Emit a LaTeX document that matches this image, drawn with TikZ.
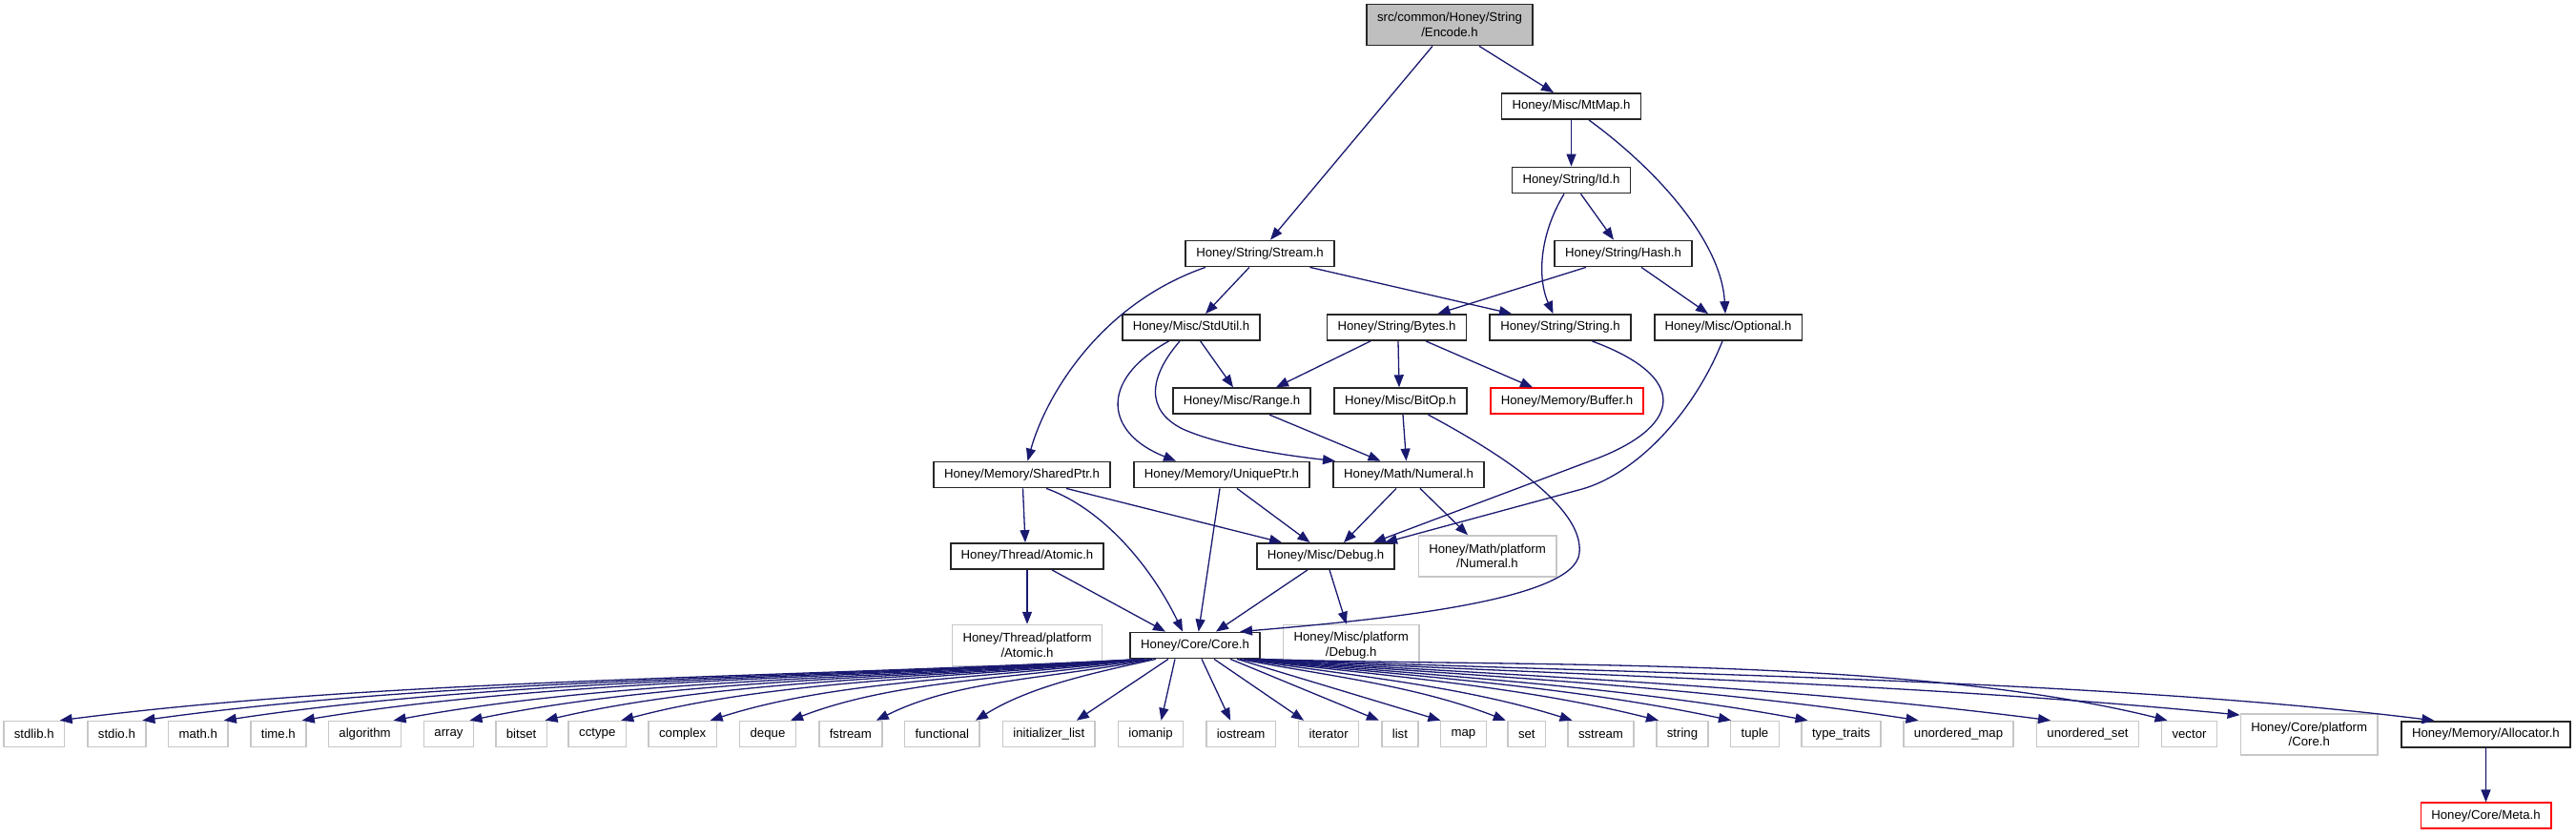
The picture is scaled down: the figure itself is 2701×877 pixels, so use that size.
\documentclass[tikz,border=0pt]{standalone}
\usepackage{fontspec}
\setsansfont{Liberation Sans}
\usepackage{tikz}
\usetikzlibrary{arrows.meta}
\definecolor{edgeblue}{RGB}{25,25,112}
\definecolor{rootgray}{RGB}{191,191,191}

\begin{document}
\begin{tikzpicture}[
    x=1pt, y=-1pt,
    font=\sffamily\fontsize{13.2}{15.5}\selectfont,
    >={Triangle[length=13pt, width=10pt]},
    header/.style={draw=black!85, line width=1.8pt, inner xsep=11pt, inner ysep=0pt, minimum height=27pt, align=center},
    root/.style={header, fill=rootgray, minimum height=43pt},
    missing/.style={header, draw=red, line width=1.5pt},
    sysheader/.style={header, draw=black!22, line width=1.5pt},
    platform/.style={sysheader, minimum height=43pt},
    dep/.style={->, draw=edgeblue, line width=1.3pt}
]
\useasboundingbox (0,0) rectangle (2701,877);

\node[root] (encode) at (1520, 26) {src/common/Honey/String\\/Encode.h};
\node[header] (mtmap) at (1647.5, 111.5) {Honey/Misc/MtMap.h};
\node[header] (id) at (1647.5, 189) {Honey/String/Id.h};
\node[header] (hash) at (1702, 266) {Honey/String/Hash.h};
\node[header] (stream) at (1321, 266) {Honey/String/Stream.h};
\node[header] (stdutil) at (1249, 343.5) {Honey/Misc/StdUtil.h};
\node[header] (bytes) at (1464.5, 343.5) {Honey/String/Bytes.h};
\node[header] (honeystring) at (1636, 343.5) {Honey/String/String.h};
\node[header] (optional) at (1812, 343.5) {Honey/Misc/Optional.h};
\node[header] (range) at (1302, 420.7) {Honey/Misc/Range.h};
\node[header] (bitop) at (1468.5, 420.7) {Honey/Misc/BitOp.h};
\node[missing] (buffer) at (1643, 420.7) {Honey/Memory/Buffer.h};
\node[header] (sharedptr) at (1071.5, 498) {Honey/Memory/SharedPtr.h};
\node[header] (uniqueptr) at (1281, 498) {Honey/Memory/UniquePtr.h};
\node[header] (numeral) at (1477, 498) {Honey/Math/Numeral.h};
\node[header] (atomic) at (1077, 583.5) {Honey/Thread/Atomic.h};
\node[header] (debug) at (1390, 583.5) {Honey/Misc/Debug.h};
\node[platform] (numeralplat) at (1559.5, 583.5) {Honey/Math/platform\\/Numeral.h};
\node[platform] (atomicplat) at (1077, 677) {Honey/Thread/platform\\/Atomic.h};
\node[header] (core) at (1253, 677) {Honey/Core/Core.h};
\node[platform] (debugplat) at (1416.7, 677) {Honey/Misc/platform\\/Debug.h};

\node[sysheader] (stdlib) at (35.7, 770) {stdlib.h};
\node[sysheader] (stdio) at (122.4, 770) {stdio.h};
\node[sysheader] (mathh) at (207.8, 770) {math.h};
\node[sysheader] (timeh) at (291.8, 770) {time.h};
\node[sysheader] (algorithm) at (382.6, 770) {algorithm};
\node[sysheader] (array) at (470.5, 770) {array};
\node[sysheader] (bitset) at (546.6, 770) {bitset};
\node[sysheader] (cctype) at (626.3, 770) {cctype};
\node[sysheader] (complex) at (715.7, 770) {complex};
\node[sysheader] (deque) at (805, 770) {deque};
\node[sysheader] (fstream) at (891.8, 770) {fstream};
\node[sysheader] (functional) at (987.9, 770) {functional};
\node[sysheader] (initlist) at (1099.8, 770) {initializer\_list};
\node[sysheader] (iomanip) at (1206.5, 770) {iomanip};
\node[sysheader] (iostream) at (1301.1, 770) {iostream};
\node[sysheader] (iterator) at (1393.1, 770) {iterator};
\node[sysheader] (list) at (1467.9, 770) {list};
\node[sysheader] (map) at (1534.4, 770) {map};
\node[sysheader] (set) at (1600.8, 770) {set};
\node[sysheader] (sstream) at (1678.5, 770) {sstream};
\node[sysheader] (stdstring) at (1764, 770) {string};
\node[sysheader] (tuple) at (1840, 770) {tuple};
\node[sysheader] (typetraits) at (1930.5, 770) {type\_traits};
\node[sysheader] (umap) at (2053.5, 770) {unordered\_map};
\node[sysheader] (uset) at (2189, 770) {unordered\_set};
\node[sysheader] (vector) at (2295.5, 770) {vector};
\node[platform] (coreplat) at (2421.2, 770.3) {Honey/Core/platform\\/Core.h};
\node[header] (allocator) at (2606.4, 770.3) {Honey/Memory/Allocator.h};
\node[missing] (meta) at (2606.5, 855.7) {Honey/Core/Meta.h};

\draw[dep] ([xshift=-18pt]encode.south) -- ([xshift=11pt]stream.north);
\draw[dep] ([xshift=31pt]encode.south) -- ([xshift=-18.5pt]mtmap.north);
\draw[dep] (mtmap) -- (id);
\draw[dep] ([xshift=18.5pt]mtmap.south) .. controls (1740,180) and (1805,255) .. ([xshift=-3pt]optional.north);
\draw[dep] ([xshift=10pt]id.south) -- ([xshift=-10pt]hash.north);
\draw[dep] ([xshift=-7.5pt]id.south) .. controls (1612,250) and (1613,295) .. ([xshift=-7.5pt]honeystring.north);
\draw[dep] ([xshift=-39pt]hash.south) -- ([xshift=43pt]bytes.north);
\draw[dep] ([xshift=19pt]hash.south) -- ([xshift=-21pt]optional.north);
\draw[dep] ([xshift=-57pt]stream.south) .. controls (1150,320) and (1095,420) .. ([xshift=6pt]sharedptr.north);
\draw[dep] ([xshift=-11pt]stream.south) -- ([xshift=15pt]stdutil.north);
\draw[dep] ([xshift=52.5pt]stream.south) -- ([xshift=-51pt]honeystring.north);
\draw[dep] ([xshift=9.7pt]stdutil.south) -- ([xshift=-9pt]range.north);
\draw[dep] ([xshift=-23.5pt]stdutil.south) .. controls (1150,400) and (1160,455) .. ([xshift=-48pt]uniqueptr.north);
\draw[dep] ([xshift=-12pt]stdutil.south) .. controls (1205,395) and (1200,430) .. (1240,450) .. controls (1280,468) and (1350,478) .. ([xshift=-77pt]numeral.north);
\draw[dep] ([xshift=-27.5pt]bytes.south) -- ([xshift=36pt]range.north);
\draw[dep] ([xshift=1.5pt]bytes.south) -- ([xshift=-1.5pt]bitop.north);
\draw[dep] ([xshift=30.5pt]bytes.south) -- ([xshift=-36pt]buffer.north);
\draw[dep] ([xshift=33.4pt]honeystring.south) .. controls (1770,395) and (1765,445) .. (1677,480) -- ([xshift=50pt]debug.north);
\draw[dep] ([xshift=-6pt]optional.south) .. controls (1775,435) and (1715,497) .. (1659,513) -- ([xshift=62pt]debug.north);
\draw[dep] ([xshift=29pt]range.south) -- ([xshift=-29.5pt]numeral.north);
\draw[dep] ([xshift=2.5pt]bitop.south) -- ([xshift=-2.5pt]numeral.north);
\draw[dep] ([xshift=29pt]bitop.south) .. controls (1600,490) and (1660,540) .. (1656,580) .. controls (1652,630) and (1450,650) .. ([xshift=47pt]core.north);
\draw[dep] ([xshift=1pt]sharedptr.south) -- ([xshift=-2pt]atomic.north);
\draw[dep] ([xshift=25.5pt]sharedptr.south) .. controls (1160,535) and (1210,600) .. ([xshift=-13pt]core.north);
\draw[dep] ([xshift=46.5pt]sharedptr.south) -- ([xshift=-46pt]debug.north);
\draw[dep] ([xshift=-2pt]uniqueptr.south) -- ([xshift=3.7pt]core.north);
\draw[dep] ([xshift=16pt]uniqueptr.south) -- ([xshift=-16.5pt]debug.north);
\draw[dep] ([xshift=-13pt]numeral.south) -- ([xshift=19pt]debug.north);
\draw[dep] ([xshift=12pt]numeral.south) -- ([xshift=-20.5pt]numeralplat.north);
\draw[dep] (atomic) -- (atomicplat);
\draw[dep] ([xshift=26pt]atomic.south) -- ([xshift=-31pt]core.north);
\draw[dep] ([xshift=-19pt]debug.south) -- ([xshift=22pt]core.north);
\draw[dep] ([xshift=4pt]debug.south) -- ([xshift=-5pt]debugplat.north);

\draw[dep] ([xshift=-53pt]core.south) .. controls (802,712) and (404,712) .. ([xshift=27pt]stdlib.north);
\draw[dep] ([xshift=-53pt]core.south) .. controls (832,712) and (465,712) .. ([xshift=27pt]stdio.north);
\draw[dep] ([xshift=-53pt]core.south) .. controls (862,712) and (524,712) .. ([xshift=27pt]mathh.north);
\draw[dep] ([xshift=-53pt]core.south) .. controls (891,712) and (582,712) .. ([xshift=25pt]timeh.north);
\draw[dep] ([xshift=-53pt]core.south) .. controls (924,712) and (649,712) .. ([xshift=30pt]algorithm.north);
\draw[dep] ([xshift=-53pt]core.south) .. controls (952,712) and (705,712) .. ([xshift=22pt]array.north);
\draw[dep] ([xshift=-53pt]core.south) .. controls (980,712) and (760,712) .. ([xshift=25pt]bitset.north);
\draw[dep] ([xshift=-53pt]core.south) .. controls (1008,712) and (816,712) .. ([xshift=25pt]cctype.north);
\draw[dep] ([xshift=-53pt]core.south) .. controls (1041,712) and (881,712) .. ([xshift=29pt]complex.north);
\draw[dep] ([xshift=-48pt]core.south) .. controls (1074,712) and (942,712) .. ([xshift=24pt]deque.north);
\draw[dep] ([xshift=-45pt]core.south) .. controls (1107,712) and (1006,712) .. ([xshift=27pt]fstream.north);
\draw[dep] ([xshift=-41pt]core.south) .. controls (1146,706) and (1080,720) .. ([xshift=35pt]functional.north);
\draw[dep] ([xshift=-28pt]core.south) -- ([xshift=29pt]initlist.north);
\draw[dep] ([xshift=-21pt]core.south) -- ([xshift=11pt]iomanip.north);
\draw[dep] ([xshift=7pt]core.south) -- ([xshift=-11pt]iostream.north);
\draw[dep] ([xshift=20pt]core.south) -- ([xshift=-26pt]iterator.north);
\draw[dep] ([xshift=37pt]core.south) -- ([xshift=-22pt]list.north);
\draw[dep] ([xshift=44pt]core.south) -- ([xshift=-24pt]map.north);
\draw[dep] ([xshift=47pt]core.south) .. controls (1384,708) and (1481,718) .. ([xshift=-22pt]set.north);
\draw[dep] ([xshift=51pt]core.south) .. controls (1407,708) and (1528,718) .. ([xshift=-30pt]sstream.north);
\draw[dep] ([xshift=53pt]core.south) .. controls (1436,708) and (1588,718) .. ([xshift=-25pt]stdstring.north);
\draw[dep] ([xshift=55pt]core.south) .. controls (1460,708) and (1638,718) .. ([xshift=-25pt]tuple.north);
\draw[dep] ([xshift=57pt]core.south) .. controls (1486,708) and (1691,718) .. ([xshift=-35pt]typetraits.north);
\draw[dep] ([xshift=59pt]core.south) .. controls (1522,708) and (1767,718) .. ([xshift=-42pt]umap.north);
\draw[dep] ([xshift=61pt]core.south) .. controls (1565,708) and (1857,718) .. ([xshift=-39pt]uset.north);
\draw[dep] ([xshift=65pt]core.south) .. controls (1600,700) and (2000,688) .. ([xshift=-23pt]vector.north);
\draw[dep] ([xshift=67pt]core.south) .. controls (1629,708) and (1989,715) .. ([yshift=-2pt]coreplat.north west);
\draw[dep] ([xshift=67pt]core.south) .. controls (1690,706) and (2200,712) .. ([xshift=-54pt]allocator.north);
\draw[dep] (allocator) -- (meta);

\end{tikzpicture}
\end{document}
